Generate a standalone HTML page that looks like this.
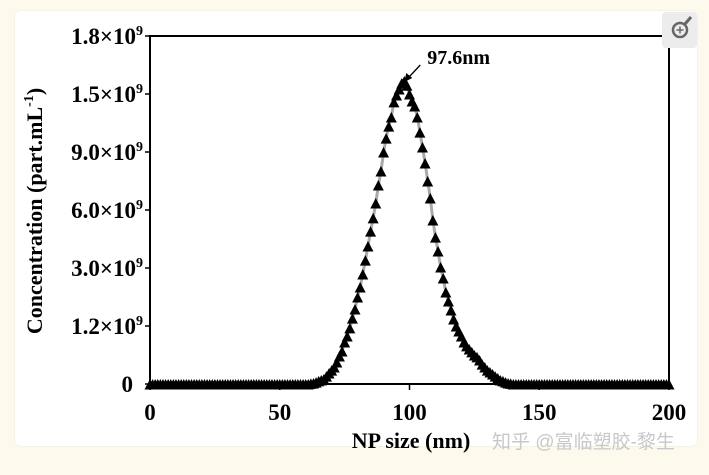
<!DOCTYPE html>
<html><head><meta charset="utf-8"><style>
html,body{margin:0;padding:0;background:#fdf9ec;}
body{width:709px;height:475px;position:relative;overflow:hidden;font-family:"Liberation Serif",serif;}
#card{position:absolute;left:15px;top:11px;width:682px;height:435px;background:#fff;border-radius:6px;box-shadow:0 0 2px rgba(0,0,0,0.08);}
svg text{font-family:"Liberation Serif",serif;font-weight:bold;fill:#000;}
</style></head><body>
<div id="card"></div>
<svg id="chart" width="709" height="475" style="position:absolute;left:0;top:0"></svg>
<script>
const yTickLabels = ["0","1.2×10","3.0×10","6.0×10","9.0×10","1.5×10","1.8×10"];
const xTickValues = [0,50,100,150,200];
const sizeStart = 0;
const concentration = [
0,0,0,0,0,0,0,0,0,0, 0,0,0,0,0,0,0,0,0,0,
0,0,0,0,0,0,0,0,0,0, 0,0,0,0,0,0,0,0,0,0,
0,0,0,0,0,0,0,0,0,0, 0,0,0,0,0,0,0,0,0,0,
0,0,0.003,0.005,0.010,0.016,0.021,0.026,0.041,0.057,
0.072,0.088,0.114,0.145,0.171,0.217,0.248,0.290,0.341,0.388,
0.450,0.502,0.569,0.641,0.714,0.791,0.859,0.936,1.029,1.102,
1.200,1.272,1.334,1.381,1.459,1.495,1.526,1.556,1.567,1.545,
1.500,1.464,1.438,1.381,1.303,1.226,1.143,1.050,0.962,0.848,
0.760,0.688,0.605,0.548,0.476,0.429,0.383,0.336,0.300,0.274,
0.248,0.217,0.197,0.181,0.166,0.150,0.140,0.124,0.103,0.088,
0.072,0.062,0.052,0.041,0.031,0.021,0.016,0.010,0.005,0.003,
0,0,0,0,0,0,0,0,0,0, 0,0,0,0,0,0,0,0,0,0,
0,0,0,0,0,0,0,0,0,0, 0,0,0,0,0,0,0,0,0,0,
0,0,0,0,0,0,0,0,0,0, 0,0,0,0,0,0,0,0,0,0,
0
];
const peakLabel = "97.6nm";
const peakSize = 97.6;

const NS="http://www.w3.org/2000/svg";
const svg=document.getElementById('chart');
const L=150,R=669,T=36,B=384;
const xMax=200,yMax=1.8;
function xs(v){return L+(v/xMax)*(R-L);}
function ys(v){return B-(v/yMax)*(B-T);}
function mk(tag,attrs,parent){const e=document.createElementNS(NS,tag);for(const k in attrs)e.setAttribute(k,attrs[k]);(parent||svg).appendChild(e);return e;}

const frame=mk('rect',{x:L,y:T,width:R-L,height:B-T,fill:'none',stroke:'#000','stroke-width':2});



yTickLabels.forEach((lab,i)=>{
  const y=B-i*(B-T)/(yTickLabels.length-1);
  const t=mk('line',{x1:L-5,x2:L,y1:y,y2:y,stroke:'#000','stroke-width':1.5});
  
  
  const tx=mk('text',{x:L-7,y:y+8,'text-anchor':'end','font-size':23,'textLength':lab==="0"?null:72});
  
  
  if(lab==="0"){tx.textContent="0";tx.setAttribute('x',L-17);tx.removeAttribute('textLength');}
  else{tx.removeAttribute('textLength');tx.textContent=lab;const s=mk('tspan',{dy:-9,'font-size':14},tx);s.textContent="9";}
});
xTickValues.forEach(v=>{
  const x=xs(v);
  const t=mk('line',{x1:x,x2:x,y1:B,y2:B+6,stroke:'#000','stroke-width':1.5});
  
  
  const tx=mk('text',{x:x,y:420,'text-anchor':'middle','font-size':23});
  tx.textContent=v;
  
  
});
const xt=mk('text',{x:411,y:448,'text-anchor':'middle','font-size':22});
xt.textContent="NP size (nm)";


const yt=mk('text',{x:0,y:0,'text-anchor':'middle','font-size':22,transform:'translate(42,211) rotate(-90)'});
yt.textContent="Concentration (part.mL";
const sp=mk('tspan',{dy:-9,'font-size':14},yt);sp.textContent="-1";
const sp2=mk('tspan',{dy:9},yt);sp2.textContent=")";



let d='';
concentration.forEach((v,i)=>{d+=(i?'L':'M')+xs(sizeStart+i).toFixed(1)+','+ys(v).toFixed(1);});
const line=mk('path',{d:d,fill:'none',stroke:'#aaa','stroke-width':3});


const g=mk('g',{});


concentration.forEach((v,i)=>{
  const x=xs(sizeStart+i),y=ys(v)+1;
  const p=mk('path',{d:`M${x},${y-6}L${x+5.5},${y+4.5}L${x-5.5},${y+4.5}Z`,fill:'#000'},g);
  
  
});
const px=xs(peakSize);
const a=mk('line',{x1:px+17,y1:65,x2:px+3,y2:80,stroke:'#000','stroke-width':1.3});


const ah=mk('path',{d:`M${px+1},${82}L${px+3},${73}L${px+9},${78}Z`,fill:'#000'});


const at=mk('text',{x:px+24,y:64,'font-size':20});
at.textContent=peakLabel;



const zi=mk('g',{});


mk('rect',{x:662,y:12,width:35,height:36,fill:'#ececec',rx:4},zi);
mk('circle',{cx:680,cy:30,r:7,fill:'none',stroke:'#666','stroke-width':2.5},zi);
mk('line',{x1:685,y1:24,x2:691,y2:17,stroke:'#666','stroke-width':3},zi);
mk('line',{x1:676.5,y1:30,x2:683.5,y2:30,stroke:'#666','stroke-width':1.5},zi);
mk('line',{x1:680,y1:26.5,x2:680,y2:33.5,stroke:'#666','stroke-width':1.5},zi);
const wm=mk('text',{x:492,y:448,'font-size':19});
wm.setAttribute('style','font-family:"Liberation Sans","Noto Sans CJK SC",sans-serif;font-weight:normal;fill:#c8c8c8');
wm.textContent="知乎 @富临塑胶-黎生";


</script>
</body></html>
